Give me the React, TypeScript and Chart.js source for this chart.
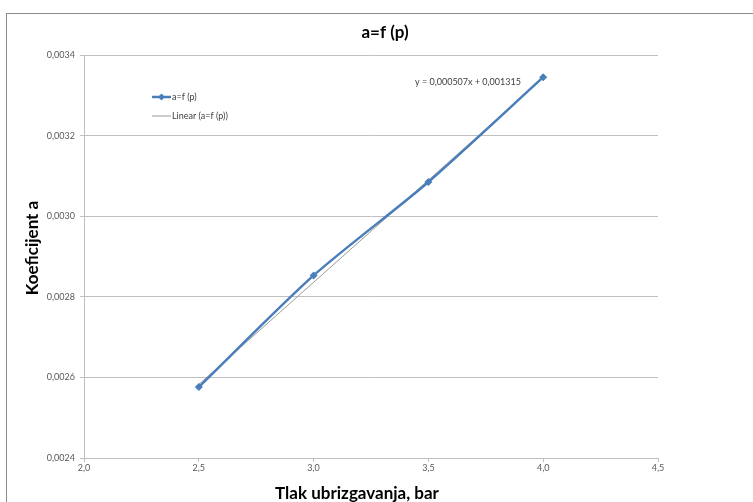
import React, { useEffect, useRef } from "react";
import { Chart, registerables } from "chart.js";

Chart.register(...registerables);

// Data
const pressure = [2.5, 3.0, 3.5, 4.0];
const coefA = [0.002576, 0.002853, 0.003085, 0.003345];
const trendX = [2.5, 4.0];
const trendY = [0.0025825, 0.003343];
const chartTitle = "a=f (p)";
const xTitle = "Tlak ubrizgavanja, bar";
const yTitle = "Koeficijent a";
const seriesName = "a=f (p)";
const trendName = "Linear (a=f (p))";
const equation = "y = 0,000507x + 0,001315";

const FONT = "Lato, 'Open Sans', sans-serif";
const BLUE = "#4a7ebb";
const GRAY_TREND = "#9a9a9a";
const GRID = "#bfbfbf";

const overlay = {
  id: "overlay",
  afterDraw(chart: any) {
    const ctx = chart.ctx;
    ctx.save();
    // title
    ctx.fillStyle = "#000";
    ctx.font = `bold 17px ${FONT}`;
    ctx.textAlign = "center";
    ctx.textBaseline = "middle";
    ctx.fillText(chartTitle, 378, 19);
    // axis titles
    ctx.fillText(xTitle, 350, 480);
    ctx.save();
    ctx.translate(26, 234);
    ctx.rotate(-Math.PI / 2);
    ctx.fillText(yTitle, 0, 0);
    ctx.restore();
    // legend
    ctx.font = `9px ${FONT}`;
    ctx.textAlign = "left";
    ctx.strokeStyle = BLUE;
    ctx.lineWidth = 2.5;
    ctx.beginPath();
    ctx.moveTo(145, 83);
    ctx.lineTo(164, 83);
    ctx.stroke();
    ctx.fillStyle = BLUE;
    ctx.beginPath();
    ctx.moveTo(154.5, 79.5);
    ctx.lineTo(158, 83);
    ctx.lineTo(154.5, 86.5);
    ctx.lineTo(151, 83);
    ctx.closePath();
    ctx.fill();
    ctx.fillStyle = "#404040";
    ctx.fillText(seriesName, 165, 83);
    ctx.strokeStyle = GRAY_TREND;
    ctx.lineWidth = 1;
    ctx.beginPath();
    ctx.moveTo(145, 102);
    ctx.lineTo(164, 102);
    ctx.stroke();
    ctx.fillText(trendName, 165, 102);
    // equation
    ctx.fillText(equation, 408, 68);
    ctx.restore();
  },
};

export default function App() {
  const ref = useRef<HTMLCanvasElement>(null);
  useEffect(() => {
    if (!ref.current) return;
    const fmtY = (v: any) => Number(v).toFixed(4).replace(".", ",");
    const fmtX = (v: any) => Number(v).toFixed(1).replace(".", ",");
    const chart = new Chart(ref.current, {
      type: "scatter",
      data: {
        datasets: [
          {
            label: trendName,
            data: trendX.map((x, i) => ({ x, y: trendY[i] })),
            showLine: true,
            borderColor: GRAY_TREND,
            borderWidth: 1,
            pointRadius: 0,
            order: 2,
          },
          {
            label: seriesName,
            data: pressure.map((x, i) => ({ x, y: coefA[i] })),
            showLine: true,
            borderColor: BLUE,
            backgroundColor: BLUE,
            borderWidth: 2.5,
            tension: 0.25,
            pointStyle: "rectRot",
            pointRadius: 4,
            pointBorderWidth: 0,
            order: 1,
          },
        ],
      },
      options: {
        responsive: false,
        animation: false,
        layout: { padding: { left: 0, top: 41, right: 109, bottom: 0 } },
        plugins: {
          legend: { display: false },
          title: { display: false },
          tooltip: { enabled: false },
        },
        scales: {
          x: {
            type: "linear",
            min: 2,
            max: 4.5,
            afterFit: (s: any) => {
              s.height = 56;
            },
            ticks: {
              stepSize: 0.5,
              callback: fmtX,
              font: { family: FONT, size: 9 },
              color: "#595959",
              padding: 1,
            },
            grid: {
              display: true,
              drawOnChartArea: false,
              drawTicks: true,
              tickLength: 4,
              color: GRID,
            },
            border: { color: GRID, width: 1 },
          },
          y: {
            type: "linear",
            min: 0.0024,
            max: 0.0034,
            afterFit: (s: any) => {
              s.width = 77;
            },
            ticks: {
              stepSize: 0.0002,
              callback: fmtY,
              font: { family: FONT, size: 9 },
              color: "#595959",
              padding: 5,
            },
            grid: {
              color: GRID,
              tickLength: 4,
            },
            border: { color: GRID, width: 1 },
          },
        },
      },
      plugins: [overlay],
    } as any);
    return () => chart.destroy();
  }, []);
  return (
    <div style={{ position: "fixed", inset: 0, overflow: "hidden", background: "#fff" }}>
      <div
        style={{
          position: "absolute",
          left: 6,
          top: 13,
          width: 760,
          height: 500,
          border: "1px solid #8c8c8c",
        }}
      >
        <canvas ref={ref} width={760} height={500} style={{ display: "block" }} />
      </div>
    </div>
  );
}
